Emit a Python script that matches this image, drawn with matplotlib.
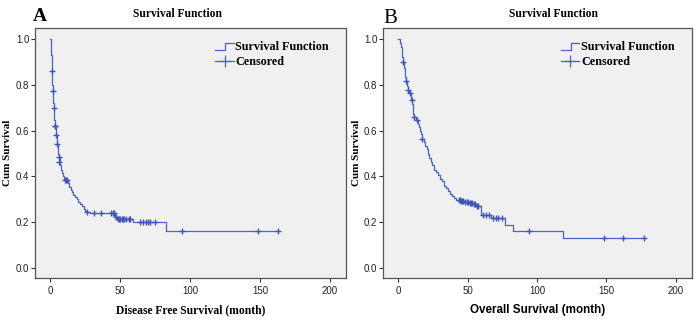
import matplotlib
matplotlib.use("Agg")
import matplotlib.pyplot as plt
from matplotlib.lines import Line2D
from matplotlib.legend_handler import HandlerBase

# Panel A: disease free survival, KM steps (time in months, survival after step)
dfs_t = [0, 0.3, 0.6, 0.9, 1.1, 1.3, 1.5, 1.7, 1.9, 2.1, 2.4, 2.7, 2.9, 3.1, 3.8, 4.1,
         4.6, 4.9, 5.4, 5.8, 6.1, 6.6, 7.2, 7.8, 8.5, 9.2, 9.8, 12.8, 13.5, 14.5, 15.5,
         16.5, 17.5, 19, 20, 21, 22.5, 24, 25, 26.5, 28.5, 46.5, 48, 59.5, 83, 163]
dfs_s = [1.0, 0.97, 0.93, 0.89, 0.86, 0.83, 0.80, 0.775, 0.745, 0.72, 0.70, 0.67, 0.645,
         0.62, 0.60, 0.58, 0.56, 0.54, 0.52, 0.50, 0.485, 0.465, 0.45, 0.43, 0.415, 0.40,
         0.385, 0.37, 0.355, 0.34, 0.33, 0.32, 0.31, 0.30, 0.29, 0.28, 0.27, 0.26, 0.25,
         0.245, 0.239, 0.225, 0.215, 0.202, 0.162, 0.162]
dfs_cens_t = [1.2, 1.6, 2.3, 3.0, 3.5, 4.3, 5.0, 6.0, 6.4, 10.5, 11.3, 12.0, 26, 31, 36,
              43.5, 44.5, 45.7, 46.8, 48.5, 49.3, 50, 51, 52, 53, 54.5, 56, 57,
              64, 66, 68.5, 70, 71.5, 75, 94, 149, 163]
dfs_cens_s = [0.86, 0.775, 0.70, 0.62, 0.62, 0.58, 0.54, 0.485, 0.465, 0.385, 0.385,
              0.385, 0.245, 0.239, 0.239, 0.239, 0.239, 0.239, 0.225, 0.215, 0.215,
              0.215, 0.215, 0.215, 0.215, 0.215, 0.215, 0.215,
              0.202, 0.202, 0.202, 0.202, 0.202, 0.202, 0.162, 0.162, 0.162]

# Panel B: overall survival
os_t = [0, 1.0, 1.8, 2.5, 3.0, 3.4, 4.2, 4.7, 5.2, 5.6, 6.3, 6.8, 7.6, 9.0, 9.5, 10.3,
        10.7, 11.0, 11.5, 12.5, 14.3, 15.0, 15.8, 16.5, 17.5, 18.5, 19.5, 20.5, 21.5,
        22.5, 23.5, 24.5, 26, 27, 28.5, 30, 31.5, 33, 34.5, 36, 37.5, 39, 40.5, 42, 45,
        48, 51, 54, 56, 59.5, 66.8, 77, 83, 119, 177]
os_s = [1.0, 0.985, 0.965, 0.945, 0.92, 0.90, 0.875, 0.855, 0.835, 0.815, 0.795, 0.778,
        0.765, 0.748, 0.735, 0.715, 0.695, 0.675, 0.66, 0.648, 0.63, 0.615, 0.60, 0.585,
        0.565, 0.55, 0.535, 0.52, 0.50, 0.48, 0.465, 0.45, 0.43, 0.418, 0.405, 0.39,
        0.378, 0.36, 0.35, 0.335, 0.325, 0.315, 0.305, 0.298, 0.293, 0.288, 0.283,
        0.278, 0.272, 0.232, 0.218, 0.19, 0.163, 0.13, 0.13]
os_cens_t = [3.6, 5.8, 7.0, 8.6, 9.9, 11.3, 13.7, 17.1, 43.5, 44.5, 45.5, 46.2, 47, 48.5,
             49.3, 50, 51.5, 52.3, 53, 54.5, 55.3, 56.5, 57.3, 61, 63.5, 65.3,
             68, 70.4, 71.6, 75.2, 94, 148.7, 162, 177]
os_cens_s = [0.90, 0.815, 0.778, 0.765, 0.735, 0.66, 0.648, 0.565, 0.298, 0.298, 0.293,
             0.293, 0.293, 0.288, 0.288, 0.288, 0.283, 0.283, 0.283, 0.278, 0.278, 0.272,
             0.272, 0.232, 0.232, 0.232, 0.218, 0.218, 0.218, 0.218, 0.163, 0.13, 0.13,
             0.13]

xticks = [0, 50, 100, 150, 200]
yticks = [0.0, 0.2, 0.4, 0.6, 0.8, 1.0]

blue = "#4c63c2"
serif = "Liberation Serif"
sans = "Liberation Sans"


class StepHandler(HandlerBase):
    def create_artists(self, legend, orig_handle, xdescent, ydescent, width, height,
                       fontsize, trans):
        x0 = -xdescent
        y0 = -ydescent
        ln = Line2D([x0, x0 + width * 0.55, x0 + width * 0.55, x0 + width],
                    [y0 + height * 0.1, y0 + height * 0.1, y0 + height * 0.85, y0 + height * 0.85],
                    color=blue, lw=0.9, transform=trans)
        return [ln]


fig = plt.figure(figsize=(7, 3.2), dpi=100)
axA = fig.add_axes([0.05, 0.131, 0.444, 0.781])
axB = fig.add_axes([0.547, 0.131, 0.441, 0.781])

panels = [
    (axA, dfs_t, dfs_s, dfs_cens_t, dfs_cens_s, "Disease Free Survival (month)", serif, 0.457, -0.087),
    (axB, os_t, os_s, os_cens_t, os_cens_s, "Overall Survival (month)", sans, 0.553, -0.084),
]

for ax, t, s, ct, cs, xlab, xfont, tx, ylx in panels:
    ax.set_facecolor("#f0f0f0")
    sf, = ax.step(t, s, where="post", color=blue, lw=0.9)
    ax.plot(ct, cs, ls="none", marker="+", ms=5, mew=1.0, color="#3f55b8")
    ax.set_xlim(-11, 211.5)
    ax.set_ylim(-0.044, 1.048)
    ax.set_xticks(xticks)
    ax.set_yticks(yticks)
    ax.set_yticklabels(["%.1f" % v for v in yticks])
    ax.tick_params(labelsize=7, length=3, width=0.8, color="#333333", labelcolor="#222222")
    ax.tick_params(axis="y", pad=1)
    ax.tick_params(axis="x", pad=3)
    for lab in ax.get_xticklabels() + ax.get_yticklabels():
        lab.set_family(sans)
    for sp in ax.spines.values():
        sp.set_color("#555555")
        sp.set_linewidth(0.9)
    ax.text(ylx, 0.5, "Cum Survival", transform=ax.transAxes, family=serif,
            fontweight="bold", fontsize=8, rotation=90, ha="center", va="center")
    ax.text(0.5, -0.128, xlab, transform=ax.transAxes, family=xfont,
            fontweight="bold", fontsize=8.4, ha="center", va="center")
    ax.text(tx, 1.056, "Survival Function", transform=ax.transAxes, family=serif,
            fontweight="bold", fontsize=8.3, ha="center", va="center")
    ax.legend([sf, Line2D([], [], color=blue, lw=0.9, marker="+", ms=8, mew=0.9)],
              ["Survival Function", "Censored"],
              handler_map={sf: StepHandler()},
              loc="upper right", bbox_to_anchor=(0.985, 0.995), frameon=False,
              prop={"family": serif, "weight": "bold", "size": 8.7},
              handlelength=1.5, handletextpad=0.15, labelspacing=0.2, borderpad=0.5)

fig.text(0.057, 0.948, "A", family=serif, fontweight="bold", fontsize=14, ha="center", va="center")
fig.text(0.558, 0.942, "B", family=serif, fontsize=15, ha="center", va="center")

fig.savefig("out.png", dpi=100)
